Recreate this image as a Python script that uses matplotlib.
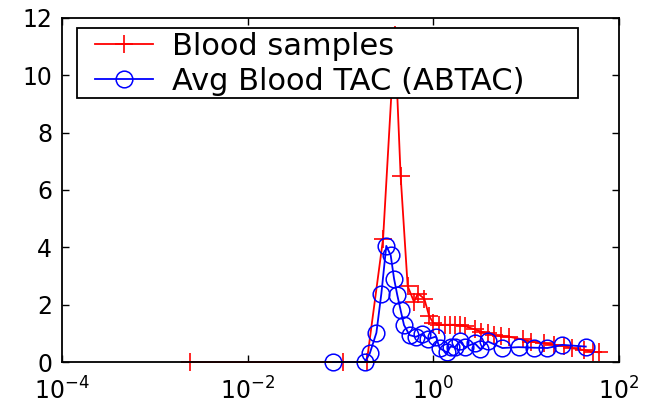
import matplotlib
matplotlib.use("Agg")
import matplotlib.pyplot as plt
from matplotlib.patches import Rectangle
from matplotlib.ticker import NullLocator

# Blood samples (time, activity)
blood_t = [0.00242, 0.106, 0.192, 0.288, 0.385, 0.445, 0.53, 0.62, 0.684,
           0.80, 0.90, 1.0, 1.16, 1.33, 1.52, 1.72, 1.94, 2.2, 2.79, 3.28,
           3.87, 4.56, 5.38, 6.62, 9.2, 11.3, 15.8, 20.1, 25.6, 31.4, 42,
           52, 61]
blood_y = [0, 0, 0, 4.30, 11.4, 6.5, 2.65, 2.10, 2.39, 2.21, 1.62, 1.36,
           1.30, 1.30, 1.30, 1.30, 1.28, 1.25, 1.14, 1.06, 1.0, 0.94, 0.90,
           0.88, 0.79, 0.71, 0.65, 0.61, 0.56, 0.48, 0.42, 0.36, 0.34]

# Average blood TAC
abtac_t = [0.0835, 0.182, 0.207, 0.244, 0.276, 0.312, 0.348, 0.378, 0.410,
           0.445, 0.484, 0.556, 0.65, 0.75, 0.88, 1.07, 1.17, 1.39, 1.54,
           1.71, 1.93, 2.20, 2.79, 3.22, 3.87, 5.55, 8.3, 12.3, 17.0, 24.6,
           44]
abtac_y = [0, 0, 0.30, 1.02, 2.39, 4.05, 3.72, 2.91, 2.33, 1.81, 1.29, 0.94,
           0.88, 0.97, 0.80, 0.89, 0.49, 0.34, 0.54, 0.52, 0.72, 0.52, 0.66,
           0.45, 0.72, 0.49, 0.52, 0.50, 0.49, 0.60, 0.54]

labels = ["Blood samples", "Avg Blood TAC (ABTAC)"]
xticks = [1e-4, 1e-2, 1e0, 1e2]
yticks = [0, 2, 4, 6, 8, 10, 12]

plt.rcParams["font.family"] = "DejaVu Sans"

fig = plt.figure(figsize=(6.46, 4.05), dpi=100)
ax = fig.add_axes([0.096, 0.106, 0.862, 0.850])

ax.plot(blood_t, blood_y, color="red", lw=1.3, marker="+", ms=13,
        mew=1.2, label=labels[0], clip_on=False)
ax.plot(abtac_t, abtac_y, color="blue", lw=1.3, marker="o", ms=12,
        mfc="none", mew=1.1, label=labels[1], clip_on=False)

ax.set_xscale("log")
ax.set_xlim(1e-4, 1e2)
ax.set_ylim(0, 12)
ax.set_yticks(yticks)
ax.set_xticks(xticks)
ax.xaxis.set_minor_locator(NullLocator())

ax.tick_params(direction="in", length=5, width=1, top=True, right=True,
               labelsize=17)
ax.tick_params(axis="y", pad=7)
ax.tick_params(axis="x", pad=11)
for s in ax.spines.values():
    s.set_linewidth(1.3)
    s.set_zorder(6)

box = Rectangle((0.027, 0.767), 0.899, 0.204, transform=ax.transAxes,
                facecolor="white", edgecolor="black", lw=1.3, zorder=4.5)
ax.add_patch(box)
leg = ax.legend(loc="upper left", bbox_to_anchor=(0.059, 0.960),
                frameon=False, fontsize=22, borderpad=0, borderaxespad=0,
                labelspacing=0.2, handlelength=1.9, handletextpad=0.62)
leg.set_zorder(5)

fig.savefig("out.png", dpi=100)
